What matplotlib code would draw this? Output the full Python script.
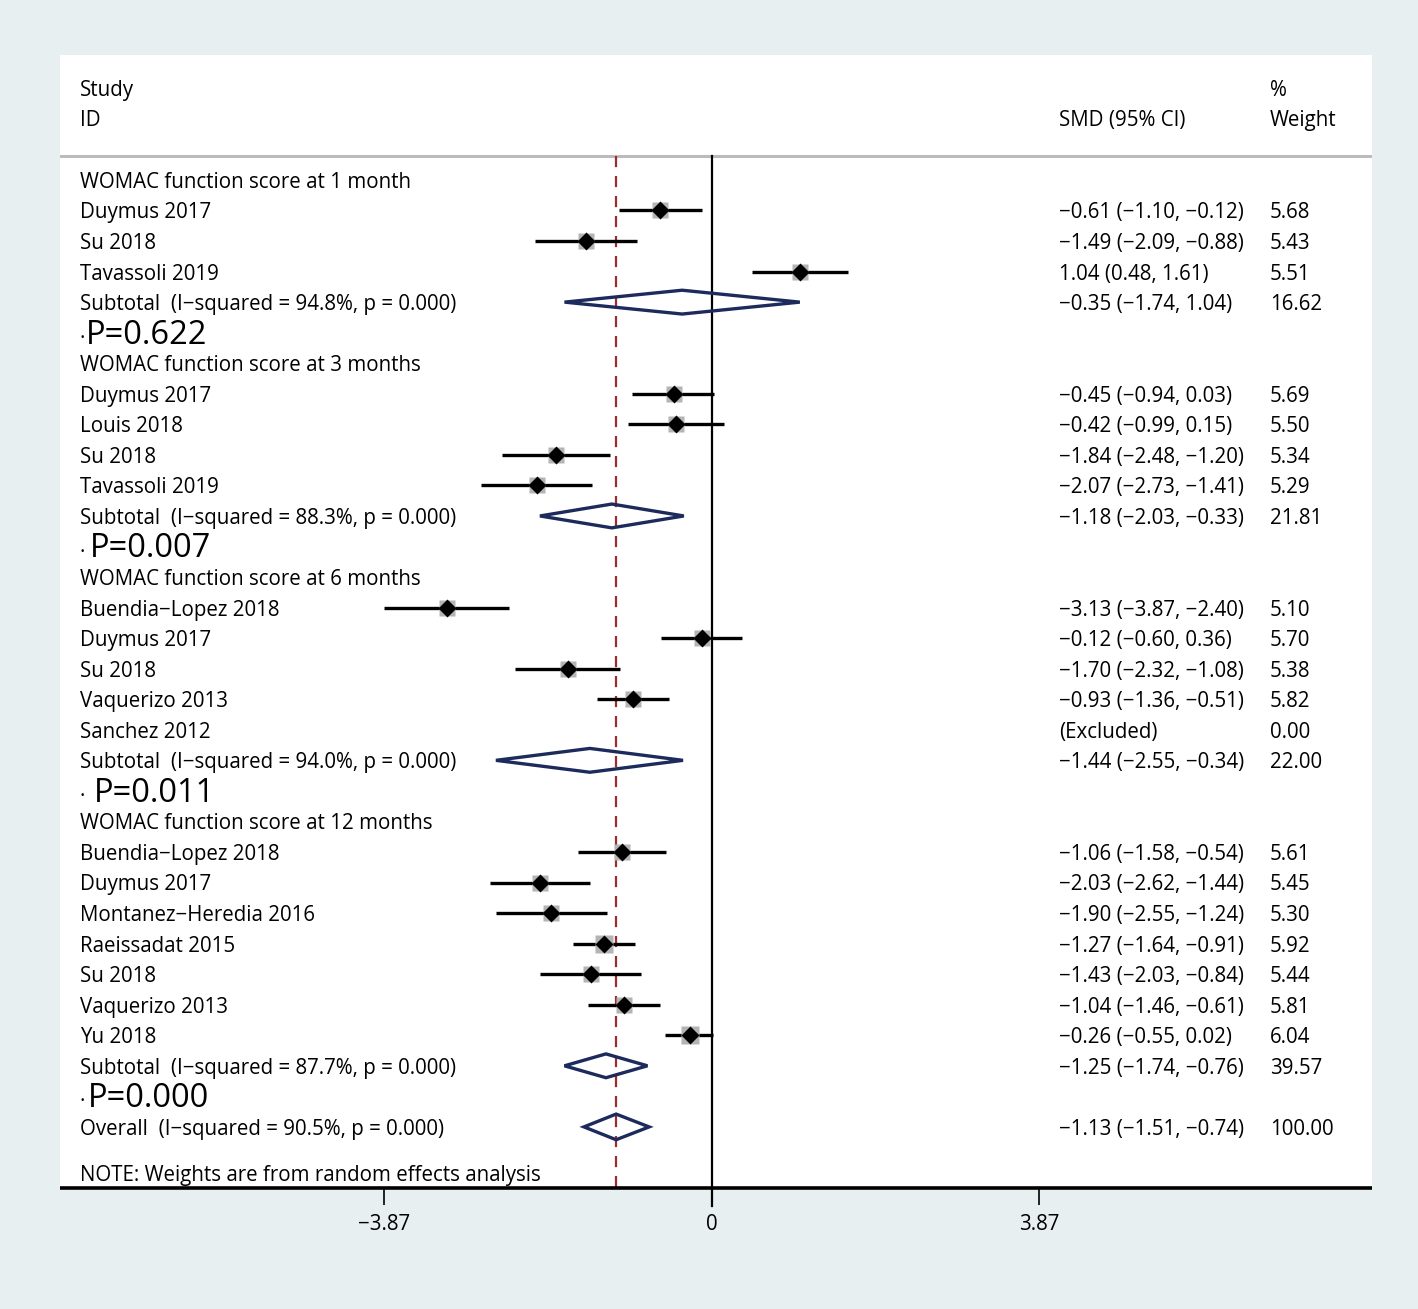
import matplotlib
matplotlib.use('Agg')
import matplotlib.pyplot as plt
import numpy as np

plt.rcParams['font.family'] = ['Open Sans', 'DejaVu Sans']

# Dados (SMD, IC 95%, peso)
group_titles = [
    'WOMAC function score at 1 month',
    'WOMAC function score at 3 months',
    'WOMAC function score at 6 months',
    'WOMAC function score at 12 months',
]

studies_1m = ['Duymus 2017', 'Su 2018', 'Tavassoli 2019']
smd_1m = [-0.61, -1.49, 1.04]
lo_1m = [-1.10, -2.09, 0.48]
hi_1m = [-0.12, -0.88, 1.61]
w_1m = [5.68, 5.43, 5.51]

studies_3m = ['Duymus 2017', 'Louis 2018', 'Su 2018', 'Tavassoli 2019']
smd_3m = [-0.45, -0.42, -1.84, -2.07]
lo_3m = [-0.94, -0.99, -2.48, -2.73]
hi_3m = [0.03, 0.15, -1.20, -1.41]
w_3m = [5.69, 5.50, 5.34, 5.29]

studies_6m = ['Buendia\u2212Lopez 2018', 'Duymus 2017', 'Su 2018', 'Vaquerizo 2013', 'Sanchez 2012']
smd_6m = [-3.13, -0.12, -1.70, -0.93, None]
lo_6m = [-3.87, -0.60, -2.32, -1.36, None]
hi_6m = [-2.40, 0.36, -1.08, -0.51, None]
w_6m = [5.10, 5.70, 5.38, 5.82, 0.00]

studies_12m = ['Buendia\u2212Lopez 2018', 'Duymus 2017', 'Montanez\u2212Heredia 2016',
               'Raeissadat 2015', 'Su 2018', 'Vaquerizo 2013', 'Yu 2018']
smd_12m = [-1.06, -2.03, -1.90, -1.27, -1.43, -1.04, -0.26]
lo_12m = [-1.58, -2.62, -2.55, -1.64, -2.03, -1.46, -0.55]
hi_12m = [-0.54, -1.44, -1.24, -0.91, -0.84, -0.61, 0.02]
w_12m = [5.61, 5.45, 5.30, 5.92, 5.44, 5.81, 6.04]

sub_i2 = ['94.8%', '88.3%', '94.0%', '87.7%']
sub_smd = [-0.35, -1.18, -1.44, -1.25]
sub_lo = [-1.74, -2.03, -2.55, -1.74]
sub_hi = [1.04, -0.33, -0.34, -0.76]
sub_w = [16.62, 21.81, 22.00, 39.57]
p_values = ['P=0.622', 'P=0.007', 'P=0.011', 'P=0.000']

overall_smd = -1.13
overall_lo = -1.51
overall_hi = -0.74
overall_w = 100.00
overall_i2 = '90.5%'

x_ticks = [-3.87, 0, 3.87]
x_tick_labels = ['\u22123.87', '0', '3.87']

groups = [
    (studies_1m, smd_1m, lo_1m, hi_1m, w_1m),
    (studies_3m, smd_3m, lo_3m, hi_3m, w_3m),
    (studies_6m, smd_6m, lo_6m, hi_6m, w_6m),
    (studies_12m, smd_12m, lo_12m, hi_12m, w_12m),
]


def fmt(v):
    return f'{v:.2f}'.replace('-', '\u2212')


# Figura e eixo
fig = plt.figure(figsize=(14.18, 13.09), dpi=100, facecolor='#e8eff1')
W, H = 1418, 1309
ax = fig.add_axes([60 / W, (H - 1188) / H, 1312 / W, (1188 - 55) / H])
ax.set_facecolor('white')
ax.set_xlim(-7.70, 7.80)
ax.set_ylim(33.0, -4.09)

fs = 14.8
navy = '#1c2a5c'
col_label = -7.465
col_smd = 4.10
col_w = 6.593
y_top = -0.79
dy = 0.08  # ajuste vertical do texto
p_offsets = [0.07, 0.117, 0.164, 0.093]


def txt(x, y, s, **kw):
    ax.text(x, y + dy, s, fontsize=kw.pop('fontsize', fs), va='center', **kw)


# Cabeçalho
txt(col_label, -3.0, 'Study')
txt(col_label, -2.02, 'ID')
txt(col_smd, -2.02, 'SMD (95% CI)')
txt(col_w, -3.0, '%')
txt(col_w, -2.02, 'Weight')
ax.axhline(y_top, color='#bbbbbb', lw=2.2)

# Linhas de referência
ax.plot([0, 0], [y_top, 33.6], color='black', lw=1.6, clip_on=False, zorder=2)
ax.plot([overall_smd, overall_smd], [y_top, 33.0], color='#9b2d30', lw=1.6,
        ls=(0, (5, 4)), zorder=2)

row = 0
for g, (names, smd, lo, hi, w) in enumerate(groups):
    txt(col_label, row, group_titles[g])
    row += 1
    for name, s, l, h, wt in zip(names, smd, lo, hi, w):
        txt(col_label, row, name)
        if s is None:
            txt(col_smd, row, '(Excluded)')
        else:
            ax.plot([l, h], [row, row], color='black', lw=2.4, zorder=3,
                    solid_capstyle='butt')
            ax.plot(s, row, marker='s', ms=12 * np.sqrt(wt / 5.6), color='#b4b4b4',
                    mec='none', zorder=4)
            ax.plot(s, row, marker='D', ms=9.5, color='black', mec='none', zorder=5)
            txt(col_smd, row, f'{fmt(s)} ({fmt(l)}, {fmt(h)})')
        txt(col_w, row, f'{wt:.2f}')
        row += 1
    # Subtotal
    txt(col_label, row, f'Subtotal  (I\u2212squared = {sub_i2[g]}, p = 0.000)')
    ax.fill([sub_lo[g], sub_smd[g], sub_hi[g], sub_smd[g]],
            [row, row - 0.39, row, row + 0.39], facecolor='none', edgecolor=navy,
            lw=2.4, zorder=4)
    txt(col_smd, row, f'{fmt(sub_smd[g])} ({fmt(sub_lo[g])}, {fmt(sub_hi[g])})')
    txt(col_w, row, f'{sub_w[g]:.2f}')
    row += 1
    # Valor de P
    txt(col_label, row + 0.1, '\u00b7', fontsize=15)
    txt(col_label + p_offsets[g], row, p_values[g], fontsize=23.5)
    row += 1

# Overall
txt(col_label, row, f'Overall  (I\u2212squared = {overall_i2}, p = 0.000)')
ax.fill([overall_lo, overall_smd, overall_hi, overall_smd],
        [row, row - 0.42, row, row + 0.42], facecolor='none', edgecolor=navy,
        lw=2.4, zorder=4)
txt(col_smd, row, f'{fmt(overall_smd)} ({fmt(overall_lo)}, {fmt(overall_hi)})')
txt(col_w, row, f'{overall_w:.2f}')
txt(col_label, row + 1.5, 'NOTE: Weights are from random effects analysis')

# Eixo x
for side in ['top', 'left', 'right']:
    ax.spines[side].set_visible(False)
ax.spines['bottom'].set_linewidth(2.6)
ax.spines['bottom'].set_capstyle('butt')
ax.set_yticks([])
ax.set_xticks(x_ticks)
ax.set_xticklabels(x_tick_labels, fontsize=fs)
ax.tick_params(axis='x', direction='out', length=12, width=1.2, pad=7)

fig.savefig('out.png', dpi=100, facecolor=fig.get_facecolor())
